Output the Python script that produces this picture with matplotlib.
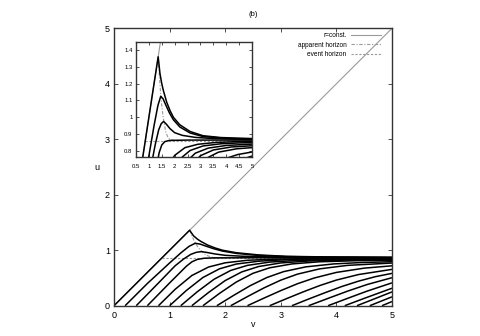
import matplotlib
matplotlib.use("Agg")
import matplotlib.pyplot as plt
from matplotlib.lines import Line2D

plt.rcParams['font.family'] = ['Liberation Sans', 'DejaVu Sans']

# ---- data: r = const. curves as (v, u) points ----
curve_a = [(0, 0), (1.36, 1.36), (1.43, 1.26), (1.5, 1.2), (1.56, 1.16), (1.69, 1.09),
           (1.82, 1.04), (1.95, 1.0), (2.2, 0.955), (2.6, 0.915), (3.1, 0.89),
           (3.8, 0.879), (5, 0.873)]
curve_b = [(0.2, 0), (0.6, 0.4), (1.0, 0.77), (1.2, 0.95), (1.35, 1.07), (1.46, 1.125),
           (1.55, 1.11), (1.65, 1.075), (1.8, 1.025), (1.95, 0.985), (2.2, 0.942),
           (2.6, 0.906), (3.1, 0.885), (4.0, 0.874), (5, 0.869)]
curve_c = [(0.4, 0), (0.8, 0.41), (1.1, 0.72), (1.25, 0.84), (1.38, 0.925), (1.48, 0.962),
           (1.57, 0.975), (1.67, 0.96), (1.82, 0.932), (2.0, 0.908), (2.3, 0.892),
           (2.8, 0.88), (3.5, 0.873), (5, 0.867)]
curve_d = [(0.6, 0), (1.0, 0.41), (1.2, 0.61), (1.3, 0.71), (1.4, 0.79), (1.5, 0.835),
           (1.62, 0.855), (1.8, 0.862), (2.5, 0.864), (5, 0.864)]
curve_e = [(0.8, 0), (1.1, 0.296), (1.4, 0.544), (1.7, 0.697), (2.0, 0.773), (2.4, 0.819),
           (2.9, 0.839), (3.6, 0.85), (4.3, 0.854), (5, 0.856)]
curve_f = [(1.0, 0), (1.3, 0.273), (1.6, 0.509), (1.9, 0.666), (2.2, 0.751), (2.6, 0.802),
           (3.1, 0.829), (3.8, 0.842), (4.5, 0.847), (5, 0.849)]
curve_g = [(1.2, 0), (1.5, 0.253), (1.8, 0.477), (2.1, 0.636), (2.4, 0.727), (2.8, 0.786),
           (3.3, 0.816), (4.0, 0.832), (5, 0.84)]
curve_h = [(1.4, 0), (1.7, 0.238), (2.0, 0.453), (2.3, 0.61), (2.6, 0.706), (3.0, 0.771),
           (3.5, 0.805), (4.2, 0.823), (5, 0.83)]
curve_i = [(1.6, 0), (1.9, 0.224), (2.2, 0.427), (2.5, 0.584), (2.8, 0.683), (3.2, 0.753),
           (3.7, 0.792), (4.4, 0.812), (5, 0.819)]
curve_j = [(1.85, 0), (2.15, 0.185), (2.45, 0.361), (2.75, 0.508), (3.05, 0.614),
           (3.45, 0.70), (3.95, 0.753), (4.45, 0.778), (5, 0.793)]
curve_k = [(2.1, 0), (2.4, 0.164), (2.7, 0.322), (3.0, 0.461), (3.3, 0.569), (3.7, 0.664),
           (4.2, 0.727), (5, 0.769)]
curve_l = [(2.4, 0), (2.7, 0.138), (3.0, 0.272), (3.3, 0.396), (3.6, 0.499), (4.0, 0.60),
           (4.5, 0.677), (5, 0.719)]
curve_m = [(2.8, 0), (3.1, 0.126), (3.4, 0.248), (3.7, 0.363), (4.0, 0.462), (4.4, 0.562),
           (5, 0.655)]
curve_n = [(3.2, 0), (3.5, 0.12), (3.8, 0.236), (4.1, 0.347), (4.4, 0.443), (4.7, 0.523),
           (5, 0.583)]
curve_o = [(3.5, 0), (3.85, 0.132), (4.2, 0.262), (4.55, 0.381), (5, 0.505)]
curve_p = [(3.85, 0), (4.2, 0.132), (4.55, 0.262), (5, 0.412)]
curve_q = [(4.15, 0), (4.5, 0.132), (5, 0.315)]
curve_r = [(4.37, 0), (4.7, 0.13), (5, 0.249)]
curve_s = [(4.6, 0), (5, 0.16)]
curve_t = [(4.82, 0), (5, 0.075)]

r_const_curves = [curve_a, curve_b, curve_c, curve_d, curve_e, curve_f, curve_g, curve_h,
                  curve_i, curve_j, curve_k, curve_l, curve_m, curve_n, curve_o, curve_p,
                  curve_q, curve_r, curve_s, curve_t]

center_line = [(0, 0), (5, 5)]
apparent_horizon = [(1.36, 1.36), (1.41, 1.24), (1.46, 1.13), (1.52, 1.04), (1.58, 0.975),
                    (1.66, 0.91), (1.75, 0.876), (1.85, 0.865), (2.0, 0.862)]
event_horizon = [(0.86, 0.86), (5, 0.86)]

main_ticks = [0, 1, 2, 3, 4, 5]
inset_xticks = [0.5, 1, 1.5, 2, 2.5, 3, 3.5, 4, 4.5, 5]
inset_xlabels = ["0.5", "1", "1.5", "2", "2.5", "3", "3.5", "4", "4.5", "5"]
inset_yticks = [0.8, 0.9, 1.0, 1.1, 1.2, 1.3, 1.4]
inset_ylabels = ["0.8", "0.9", "1", "1.1", "1.2", "1.3", "1.4"]

GRAY = "#9a9a9a"


def xs(pts):
    return [p[0] for p in pts]


def ys(pts):
    return [p[1] for p in pts]


def draw(ax, lw):
    ax.plot(xs(center_line), ys(center_line), color=GRAY, lw=0.8, zorder=1)
    ax.plot(xs(apparent_horizon), ys(apparent_horizon), color=GRAY, lw=0.8,
            ls=(0, (3, 1.5, 1, 1.5)), zorder=1)
    ax.plot(xs(event_horizon), ys(event_horizon), color=GRAY, lw=0.8,
            ls=(0, (2, 1.5)), zorder=1)
    for c in r_const_curves:
        ax.plot(xs(c), ys(c), color="black", lw=lw, zorder=2,
                solid_joinstyle="round", solid_capstyle="butt")


def style(ax, fs):
    ax.tick_params(direction="in", top=True, right=True, length=3, width=0.6,
                   labelsize=fs, pad=3, color="#333333")
    for s in ax.spines.values():
        s.set_linewidth(1.0)
        s.set_color("#333333")


fig = plt.figure(figsize=(4.8, 3.36), dpi=100)

ax = fig.add_axes([114 / 480, 1 - 305.7 / 336, 278 / 480, 277.4 / 336])
draw(ax, 1.1)
ax.set_xlim(0, 5)
ax.set_ylim(0, 5)
ax.set_xticks(main_ticks)
ax.set_yticks(main_ticks)
style(ax, 6.5)
ax.tick_params(axis="x", pad=4)
ax.set_title("(b)", fontsize=5.5, pad=9)
ax.set_xlabel("v", fontsize=6.5, labelpad=0)
ax.set_ylabel("u", fontsize=6.5, rotation=0, labelpad=6, va="center")

handles = [Line2D([], [], color=GRAY, lw=0.8),
           Line2D([], [], color=GRAY, lw=0.8, ls=(0, (3, 1.5, 1, 1.5))),
           Line2D([], [], color=GRAY, lw=0.8, ls=(0, (2, 1.5)))]
ax.legend(handles, ["r=const.", "apparent horizon", "event horizon"], loc="upper right",
          bbox_to_anchor=(0.975, 1.0), frameon=False, markerfirst=False, fontsize=4.7,
          handlelength=4.6, handletextpad=0.7, labelspacing=0.35, borderaxespad=0.2)

ins = fig.add_axes([136 / 480, 1 - 156.7 / 336, 116 / 480, 115 / 336])
ins.set_facecolor("white")
draw(ins, 1.1)
ins.set_xlim(0.5, 5)
ins.set_ylim(0.765, 1.45)
ins.set_xticks(inset_xticks)
ins.set_xticklabels(inset_xlabels)
ins.set_yticks(inset_yticks)
ins.set_yticklabels(inset_ylabels)
style(ins, 4.3)
ins.tick_params(length=2.5, pad=2.5)
ins.tick_params(axis="x", pad=5)

fig.savefig("out.png", dpi=100)
